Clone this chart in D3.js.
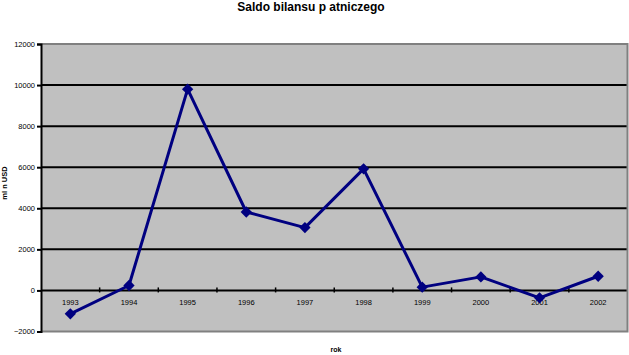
<!DOCTYPE html>
<html><head><meta charset="utf-8">
<script src="https://cdn.jsdelivr.net/npm/d3@7"></script>
<style>body{margin:0;background:#fff}svg{display:block}text{font-family:"Liberation Sans",Arial,sans-serif}</style>
</head><body>
<svg id="c" width="629" height="355"></svg>
<script>
const years = ["1993","1994","1995","1996","1997","1998","1999","2000","2001","2002"];
const values = [-1140, 240, 9800, 3820, 3060, 5920, 160, 660, -360, 690];
const yTicks = [-2000, 0, 2000, 4000, 6000, 8000, 10000, 12000];
const titleText = "Saldo bilansu p atniczego";
const xTitle = "rok";
const yTitle = "ml n USD";

const svg = d3.select("#c");
const L = 41, R = 627.5, T = 44, B = 331.5;
const x = d3.scaleBand().domain(years).range([L, R]);
const y = d3.scaleLinear().domain([-2000, 12000]).range([B, T]);

svg.append("rect").attr("x", L).attr("y", T).attr("width", R - L).attr("height", B - T).attr("fill", "#c0c0c0");

// grid lines
svg.append("g").selectAll("line").data(yTicks.filter(d => d > -2000 && d < 12000)).join("line")
  .attr("x1", L).attr("x2", R).attr("y1", d => y(d)).attr("y2", d => y(d))
  .attr("stroke", "#000").attr("stroke-width", 2);

// border gray
svg.append("path").attr("d", `M${L},${T}H${R}V${B}H${L}`).attr("fill", "none").attr("stroke", "#808080").attr("stroke-width", 2);

// y axis
const yAxis = svg.append("g").attr("transform", `translate(${L},0)`)
  .call(d3.axisLeft(y).tickValues(yTicks).tickSize(4).tickPadding(2).tickFormat(d3.format("d")));
yAxis.select(".domain").attr("stroke", "#000").attr("stroke-width", 2);
yAxis.selectAll(".tick line").attr("stroke", "#000").attr("stroke-width", 2);
yAxis.selectAll("text").attr("font-size", "7.5px").attr("fill", "#000");

// x axis at zero
const xAxis = svg.append("g").attr("transform", `translate(0,${y(0)})`)
  .call(d3.axisBottom(x).tickSize(0).tickPadding(9));
xAxis.select(".domain").remove();
xAxis.selectAll("text").attr("font-size", "7.5px").attr("fill", "#000");
svg.append("g").selectAll("line").data(years.slice(1)).join("line")
  .attr("x1", d => x(d)).attr("x2", d => x(d))
  .attr("y1", y(0) - 3).attr("y2", y(0) + 2)
  .attr("stroke", "#000").attr("stroke-width", 1.5);

// line
const pts = years.map((d, i) => [x(d) + x.bandwidth() / 2, y(values[i])]);
svg.append("path").attr("d", d3.line()(pts)).attr("fill", "none").attr("stroke", "#000080").attr("stroke-width", 3).attr("stroke-linejoin", "round");
svg.append("g").selectAll("path").data(pts).join("path")
  .attr("d", d3.symbol(d3.symbolSquare, 64)())
  .attr("transform", d => `translate(${d[0]},${d[1]}) rotate(45)`)
  .attr("fill", "#000080");

// titles
svg.append("text").attr("x", 311).attr("y", 11).attr("text-anchor", "middle").attr("font-size", "12px").attr("font-weight", "bold").text(titleText);
svg.append("text").attr("x", 336).attr("y", 352).attr("text-anchor", "middle").attr("font-size", "7px").attr("font-weight", "bold").text(xTitle);
svg.append("text").attr("transform", "translate(7,183) rotate(-90)").attr("text-anchor", "middle").attr("font-size", "7.5px").attr("font-weight", "bold").text(yTitle);
</script>
</body></html>
